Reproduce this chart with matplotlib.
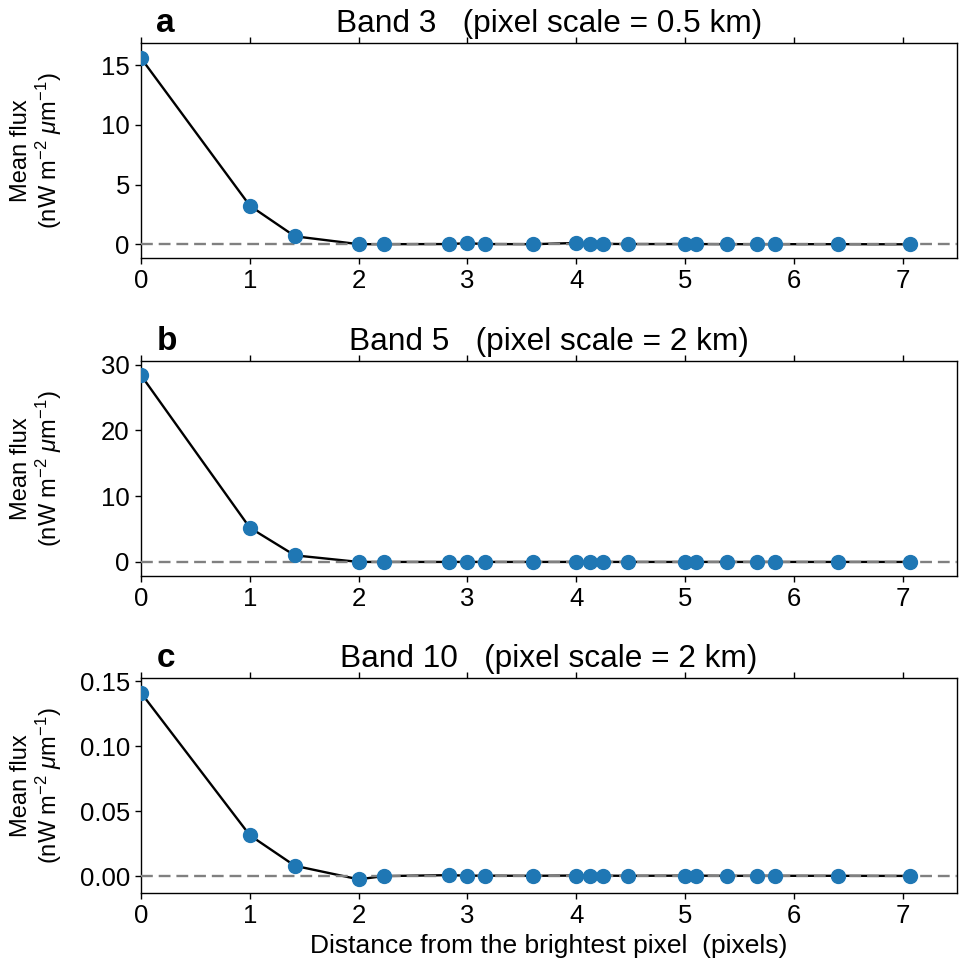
import matplotlib
matplotlib.use("Agg")
import matplotlib.pyplot as plt
import numpy as np

plt.rcParams['font.family'] = ['Liberation Sans', 'DejaVu Sans']
plt.rcParams['mathtext.fontset'] = 'custom'
plt.rcParams['mathtext.rm'] = 'Liberation Sans'
plt.rcParams['mathtext.it'] = 'Liberation Sans:italic'

# distance from brightest pixel (sqrt of integer offsets)
distance = [0.0, 1.0, 1.414, 2.0, 2.236, 2.828, 3.0, 3.162, 3.606, 4.0,
            4.123, 4.243, 4.472, 5.0, 5.099, 5.385, 5.657, 5.831, 6.403, 7.071]

flux_band3 = [15.6, 3.25, 0.68, 0.02, 0.02, 0.03, 0.1, 0.03, 0.02, 0.12,
              0.05, 0.05, 0.03, 0.03, 0.03, 0.02, 0.02, 0.02, 0.02, 0.01]
flux_band5 = [28.4, 5.2, 1.0, 0.0, 0.0, 0.0, 0.0, 0.0, 0.0, 0.0,
              0.0, 0.0, 0.0, 0.0, 0.0, 0.0, 0.0, 0.0, 0.0, 0.0]
flux_band10 = [0.141, 0.0314, 0.0079, -0.0025, 0.0, 0.0007, 0.0003, 0.0003, 0.0002, 0.0004,
               0.0003, 0.0003, 0.0002, 0.0003, 0.0003, 0.0002, 0.0002, 0.0002, 0.0002, 0.0001]

panel_labels = ['a', 'b', 'c']
titles = ['Band 3   (pixel scale = 0.5 km)',
          'Band 5   (pixel scale = 2 km)',
          'Band 10   (pixel scale = 2 km)']
ylims = [(-1.13, 16.86), (-2.07, 30.55), (-0.013, 0.1523)]
yticks = [[0, 5, 10, 15], [0, 10, 20, 30], [0.0, 0.05, 0.10, 0.15]]
ytick_fmt = ['{:.0f}', '{:.0f}', '{:.2f}']

fig = plt.figure(figsize=(9.59, 9.66), dpi=100)
positions = [(0.147, 0.733, 0.851, 0.2225),
             (0.147, 0.4042, 0.851, 0.2221),
             (0.147, 0.0756, 0.851, 0.2225)]

for i, (flux, pos) in enumerate(zip([flux_band3, flux_band5, flux_band10], positions)):
    ax = fig.add_axes(pos)
    ax.plot(distance, flux, '-', color='black', lw=1.7, zorder=2)
    ax.axhline(0, color='gray', ls='--', lw=1.7, dashes=(5, 2.5), zorder=3)
    ax.plot(distance, flux, 'o', color='#1f77b4', ms=10, zorder=4)
    ax.set_xlim(0, 7.5)
    ax.set_ylim(*ylims[i])
    ax.set_xticks(range(8))
    ax.set_yticks(yticks[i])
    ax.set_yticklabels([ytick_fmt[i].format(v) for v in yticks[i]])
    ax.tick_params(axis='both', labelsize=18.5, direction='out', length=4.5, width=1)
    ax.tick_params(axis='x', top=True)
    for sp in ax.spines.values():
        sp.set_linewidth(1)
    ax.set_title(titles[i], fontsize=22.8, pad=8)
    ax.text(0.019, 1.05, panel_labels[i], transform=ax.transAxes, fontsize=24,
            fontweight='bold', va='baseline', ha='left')
    ax.set_ylabel('Mean flux\n(nW m$^{-2}$ $\\mu$m$^{-1}$)', fontsize=17, linespacing=1.1)
    ax.yaxis.set_label_coords(-0.094, 0.5)
    if i == 2:
        ax.set_xlabel('Distance from the brightest pixel  (pixels)', fontsize=19)

fig.savefig('out.png', dpi=100)
